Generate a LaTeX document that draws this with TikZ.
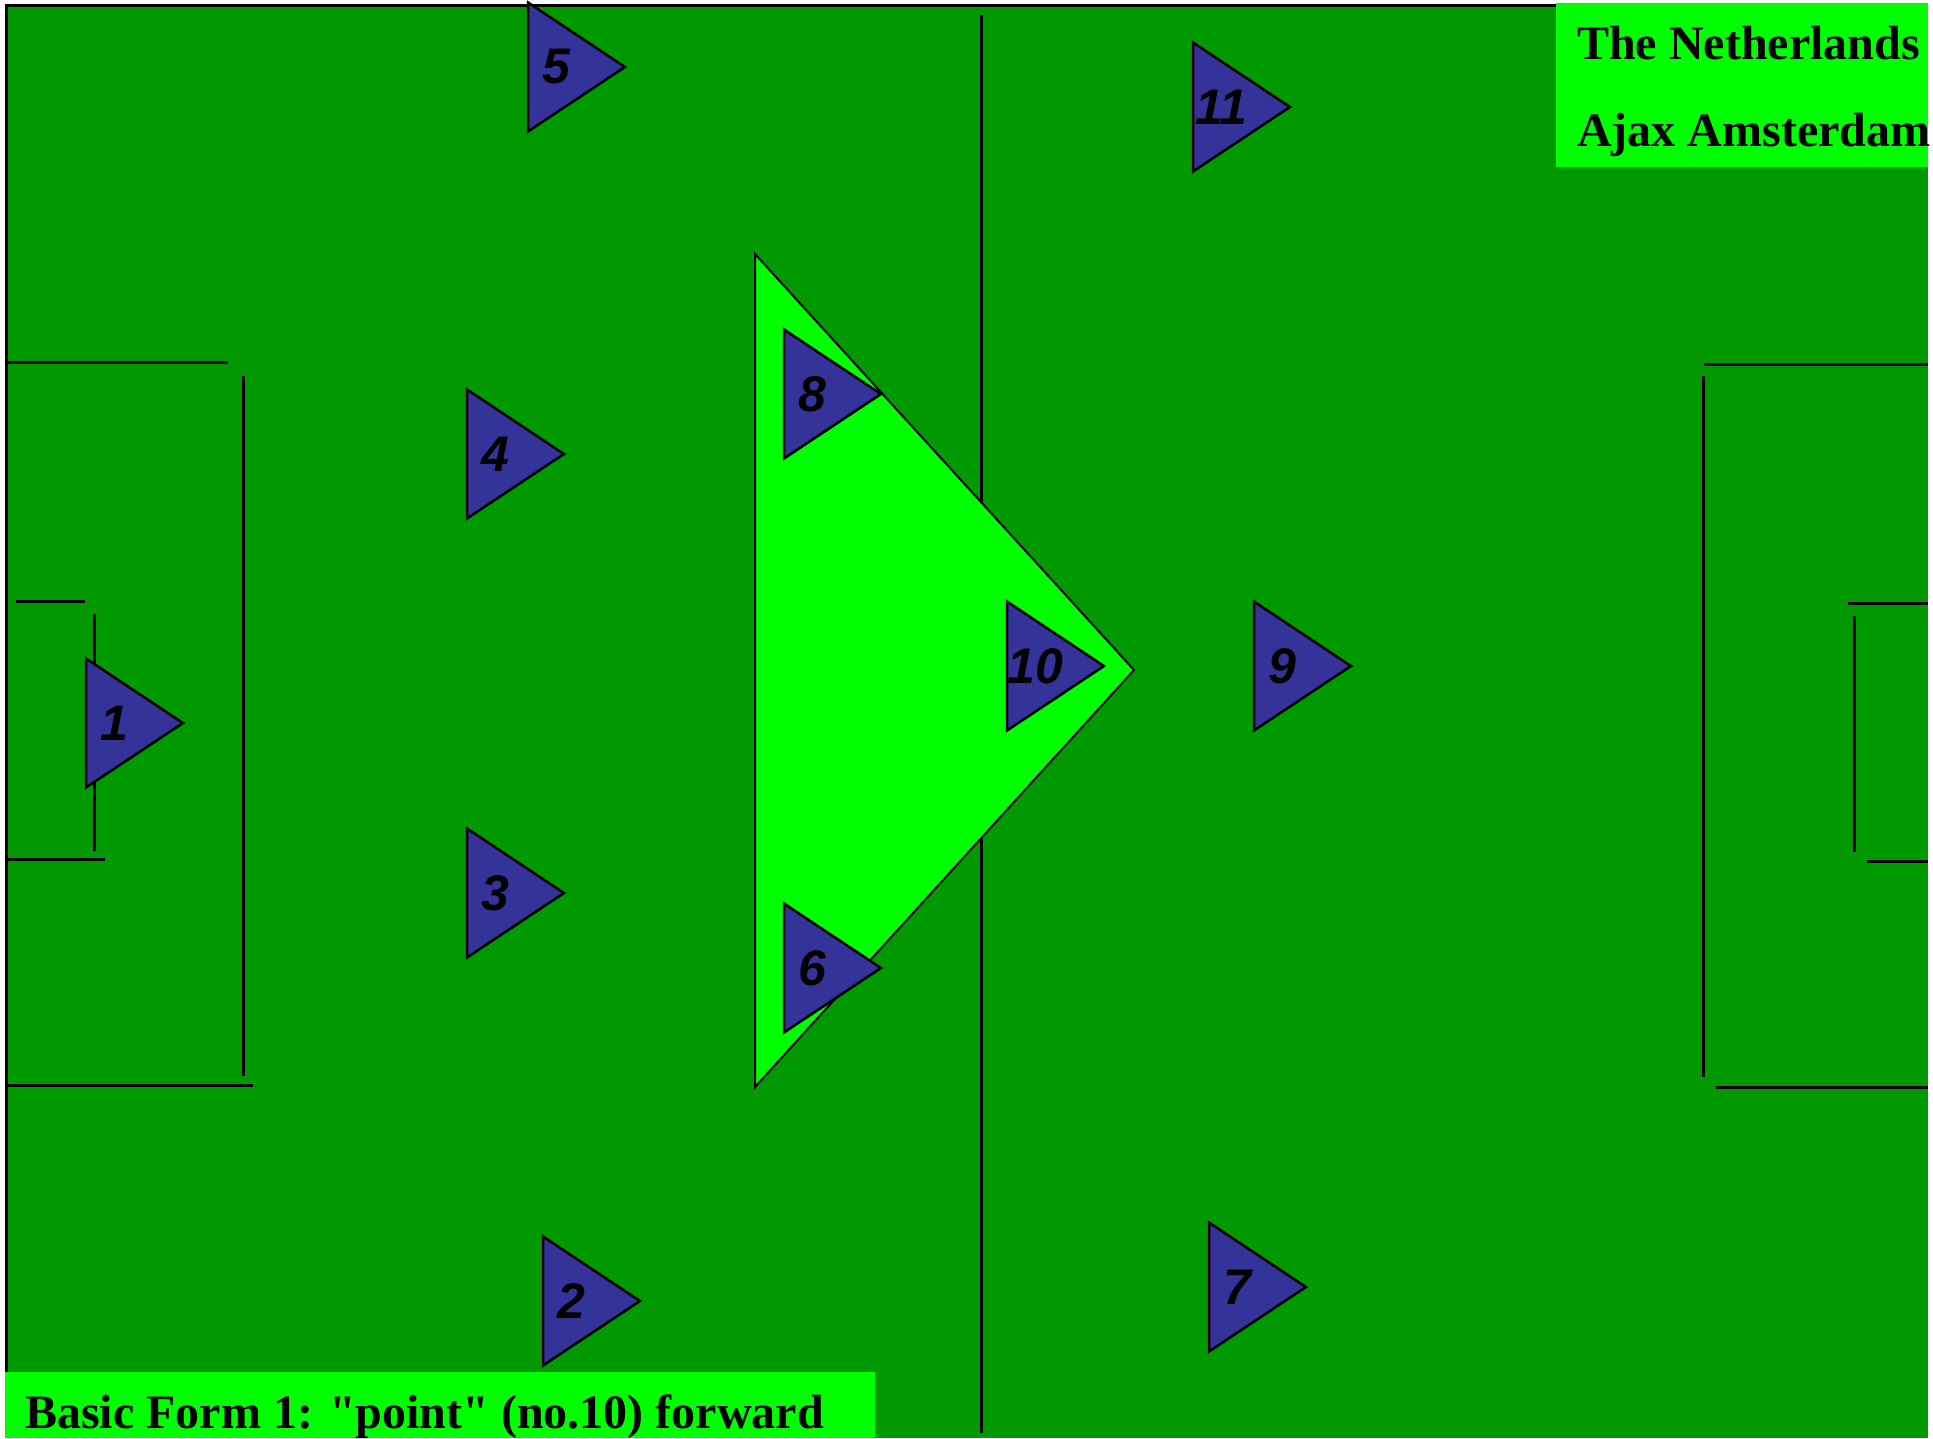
\documentclass[tikz,border=0pt]{standalone}
\usepackage{fontspec}
\setmainfont{Liberation Serif}
\newfontfamily\numfont{Liberation Sans}
\font\plainbold="Liberation Serif/B" at 48pt
\definecolor{field}{RGB}{0,153,0}
\definecolor{lgreen}{RGB}{0,255,0}
\definecolor{pblue}{RGB}{51,51,153}
\begin{document}
\begin{tikzpicture}[x=1pt,y=-1pt,
  fline/.style={line width=3pt,draw=black},
  player/.style={draw=black,line width=2.5pt,fill=pblue,line join=miter},
  num/.style={font=\numfont\bfseries\itshape\fontsize{50}{50}\selectfont,inner sep=0pt},
  title/.style={font=\plainbold,inner sep=0pt,anchor=base west}]
\useasboundingbox (0,0) rectangle (1933,1438);
\fill[white] (0,0) rectangle (1933,1438);
\begin{scope}
\clip (0,0) rectangle (1933,1438);
% field
\fill[field] (6,5) rectangle (1928,1438);
\coordinate (tl) at (6,5);
\coordinate (tr) at (1556,5);
\coordinate (bl) at (6,1438);
\draw[fline] (tr) -- (tl) -- (bl);
% halfway line
\coordinate (h1) at (981,15);
\coordinate (h2) at (981,1433);
\draw[fline] (h1) -- (h2);
% left penalty box
\draw[fline] (6,362) -- (228,362);
\draw[fline] (243,376) -- (243,1076);
\draw[fline] (6,1085) -- (253,1085);
% left goal box
\draw[fline] (16,601) -- (85,601);
\draw[fline] (94,614) -- (94,851);
\draw[fline] (7,859) -- (105,859);
% right penalty box
\draw[fline] (1704,364) -- (1928,364);
\draw[fline] (1703,376) -- (1703,1077);
\draw[fline] (1716,1087) -- (1928,1087);
% right goal box
\draw[fline] (1848,603) -- (1928,603);
\draw[fline] (1854,616) -- (1854,852);
\draw[fline] (1867,861) -- (1928,861);
% big triangle
\coordinate (bt1) at (755,254);
\coordinate (bt2) at (755,1087);
\coordinate (bt3) at (1134,670);
\draw[fill=lgreen,line width=2pt,line join=miter] (bt1) -- (bt2) -- (bt3) -- cycle;
% players
\foreach \n/\x/\y in {1/86/723, 5/528/67, 11/1193/107, 4/467/454, 8/784/394, 10/1007/666, 9/1254/666, 3/467/893, 6/784/968, 2/543/1301, 7/1209/1287}{
  \draw[player] (\x,\y-64.5) -- (\x,\y+64.5) -- (\x+97,\y) -- cycle;
  \node[num] (p\n) at (\x+28,\y) {\n};
}
% title boxes
\fill[lgreen] (1556,3) rectangle (1928,167);
\node[title] (t1) at (1577,59) {The Netherlands};
\node[title] (t2) at (1577,146) {Ajax Amsterdam};
\fill[lgreen] (5,1372) rectangle (875,1438);
\node[title] (t3) at (25,1428) {Basic Form 1: "point" (no.10) forward};
\end{scope}
\end{tikzpicture}
\end{document}
